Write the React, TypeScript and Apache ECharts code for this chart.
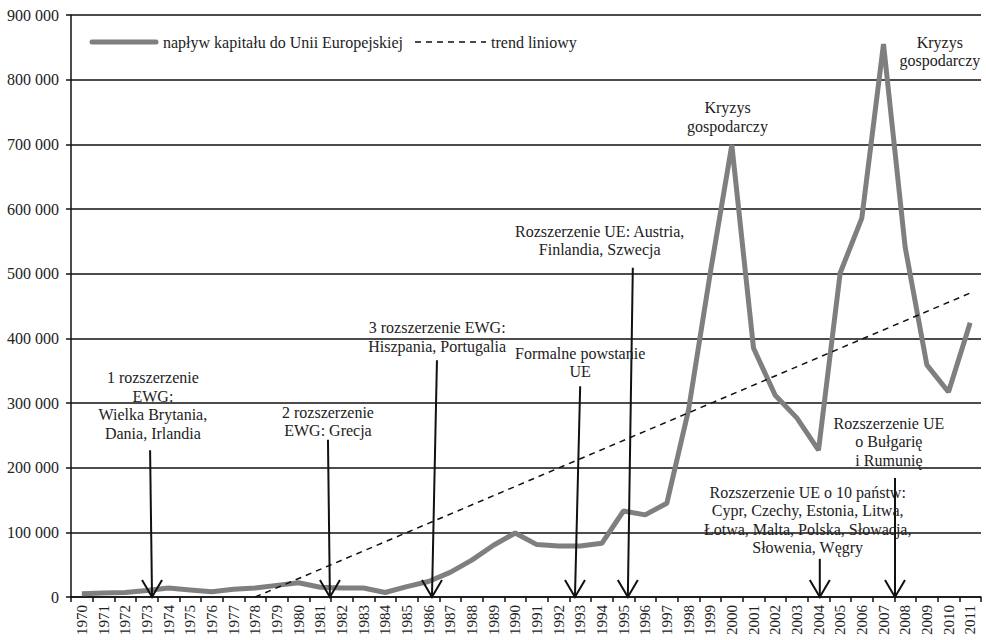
import React, { useEffect, useRef } from "react";
import * as echarts from "echarts";

const years: string[] = [
  "1970","1971","1972","1973","1974","1975","1976","1977","1978","1979",
  "1980","1981","1982","1983","1984","1985","1986","1987","1988","1989",
  "1990","1991","1992","1993","1994","1995","1996","1997","1998","1999",
  "2000","2001","2002","2003","2004","2005","2006","2007","2008","2009",
  "2010","2011",
];

const inflow: number[] = [
  5000, 6000, 7000, 10000, 14000, 11000, 8000, 12000, 14000, 18000,
  22000, 15000, 14000, 14000, 7000, 16000, 24000, 38000, 57000, 80000,
  99000, 81000, 79000, 79000, 83000, 133000, 127000, 145000, 289000, 500000,
  699000, 385000, 312000, 277000, 227000, 501000, 586000, 855000, 541000, 359000,
  317000, 424000,
];

// linear trend read at its visible ends (starts at 0 in 1978, ends in 2011)
const trendPoints: { year: string; value: number }[] = [
  { year: "1978", value: 0 },
  { year: "2011", value: 470000 },
];

const yTicks: number[] = [0, 100000, 200000, 300000, 400000, 500000, 600000, 700000, 800000, 900000];

const seriesNames: string[] = ["napływ kapitału do Unii Europejskiej", "trend liniowy"];

// arrows: [x at top (year), top value, x at bottom (year)]
const arrows: number[][] = [
  [1973.15, 227000, 1973.24],
  [1981.36, 243000, 1981.45],
  [1986.39, 366000, 1986.16],
  [1993.0, 326000, 1992.76],
  [1995.43, 509000, 1995.2],
  [2004.06, 59000, 2004.06],
  [2007.53, 184000, 2007.53],
];

// annotation texts: [center year, top value, text]
const notes: [number, number, string][] = [
  [1973.28, 353000, "1 rozszerzenie\nEWG:\nWielka Brytania,\nDania, Irlandia"],
  [1981.36, 300000, "2 rozszerzenie\nEWG: Grecja"],
  [1986.4, 431000, "3 rozszerzenie EWG:\nHiszpania, Portugalia"],
  [1993.0, 391000, "Formalne powstanie\nUE"],
  [1993.9, 580000, "Rozszerzenie UE: Austria,\nFinlandia, Szwecja"],
  [1999.8, 771000, "Kryzys\ngospodarczy"],
  [2009.6, 872000, "Kryzys\ngospodarczy"],
  [2007.25, 283000, "Rozszerzenie UE\no Bułgarię\ni Rumunię"],
  [2003.5, 176000, "Rozszerzenie UE o 10 państw:\nCypr, Czechy, Estonia, Litwa,\nŁotwa, Malta, Polska, Słowacja,\nSłowenia, Węgry"],
];

const FONT = "Liberation Serif";
const TEXT = "#222";
const GREY = "#7f7f7f";

export default function App() {
  const ref = useRef<HTMLDivElement>(null);
  useEffect(() => {
    if (!ref.current) return;
    const chart = echarts.init(ref.current, null, { renderer: "svg" });
    const trendData = years.map((y) => {
      const p = trendPoints.find((t) => t.year === y);
      return p ? p.value : null;
    });
    const legendY = 42;
    const option: any = {
      animation: false,
      backgroundColor: "#fff",
      textStyle: { fontFamily: FONT },
      grid: { left: 71, right: 5, top: 15, bottom: 43, containLabel: false },
      graphic: [
        {
          type: "line",
          shape: { x1: 92, y1: legendY, x2: 156, y2: legendY },
          style: { stroke: GREY, lineWidth: 5, lineCap: "round" },
        },
        {
          type: "text",
          x: 163,
          y: legendY,
          style: { text: seriesNames[0], fontFamily: FONT, fontSize: 16, fill: TEXT, verticalAlign: "middle" },
        },
        {
          type: "line",
          shape: { x1: 415, y1: legendY, x2: 486, y2: legendY },
          style: { stroke: "#111", lineWidth: 1.5, lineDash: [6, 5] },
        },
        {
          type: "text",
          x: 491,
          y: legendY,
          style: { text: seriesNames[1], fontFamily: FONT, fontSize: 16, fill: TEXT, verticalAlign: "middle" },
        },
      ],
      xAxis: [
        {
          type: "category",
          data: years,
          boundaryGap: true,
          axisLine: { show: true, lineStyle: { color: "#111", width: 1.5 } },
          axisTick: { show: true, interval: 0, length: 5, lineStyle: { color: "#111", width: 1.5 } },
          axisLabel: { interval: 0, rotate: 90, margin: 8, fontFamily: FONT, fontSize: 15, color: TEXT },
          splitLine: { show: false },
        },
        { type: "value", min: 1969.5, max: 2011.5, show: false },
      ],
      yAxis: {
        type: "value",
        min: yTicks[0],
        max: yTicks[yTicks.length - 1],
        interval: 100000,
        axisLine: { show: true, lineStyle: { color: "#111", width: 1.5 } },
        axisTick: { show: true, length: 5, lineStyle: { color: "#111", width: 1.5 } },
        axisLabel: {
          margin: 12,
          fontFamily: FONT,
          fontSize: 16,
          color: TEXT,
          formatter: (v: number) => String(v).replace(/\B(?=(\d{3})+(?!\d))/g, " "),
        },
        splitLine: { show: true, lineStyle: { color: "#111", width: 1.5 } },
      },
      series: [
        {
          name: seriesNames[0],
          type: "line",
          data: inflow,
          symbol: "none",
          lineStyle: { color: GREY, width: 5 },
          itemStyle: { color: GREY },
          z: 3,
        },
        {
          name: seriesNames[1],
          type: "line",
          data: trendData,
          connectNulls: true,
          symbol: "none",
          lineStyle: { color: "#111", width: 1.5, type: [6, 5] },
          itemStyle: { color: "#111" },
          z: 4,
        },
        {
          name: "arrows",
          type: "custom",
          xAxisIndex: 1,
          clip: false,
          z: 5,
          data: arrows,
          renderItem: (_p: any, api: any) => {
            const top = api.coord([api.value(0), api.value(1)]);
            const bot = api.coord([api.value(2), 0]);
            return {
              type: "group",
              children: [
                { type: "line", shape: { x1: top[0], y1: top[1], x2: bot[0], y2: bot[1] }, style: { stroke: "#111", lineWidth: 2 } },
                {
                  type: "polyline",
                  shape: { points: [[bot[0] - 10, bot[1] - 17], [bot[0], bot[1]], [bot[0] + 10, bot[1] - 17]] },
                  style: { stroke: "#111", lineWidth: 2, fill: null },
                },
              ],
            };
          },
        },
        {
          name: "notes",
          type: "custom",
          xAxisIndex: 1,
          clip: false,
          z: 6,
          data: notes.map((n) => [n[0], n[1]]),
          renderItem: (p: any, api: any) => {
            const pt = api.coord([api.value(0), api.value(1)]);
            return {
              type: "text",
              x: pt[0],
              y: pt[1],
              style: {
                text: notes[p.dataIndex][2],
                fontFamily: FONT,
                fontSize: 16,
                lineHeight: 18.5,
                fill: TEXT,
                align: "center",
                verticalAlign: "top",
              },
            };
          },
        },
      ],
    };
    chart.setOption(option);
    return () => chart.dispose();
  }, []);
  return (
    <>
      <style>{`#eu-chart text { font-family: "Liberation Serif", "Times New Roman", serif !important; }`}</style>
      <div
        id="eu-chart"
        ref={ref}
        style={{ position: "fixed", left: 0, top: 0, width: 986, height: 640, background: "#fff" }}
      />
    </>
  );
}
